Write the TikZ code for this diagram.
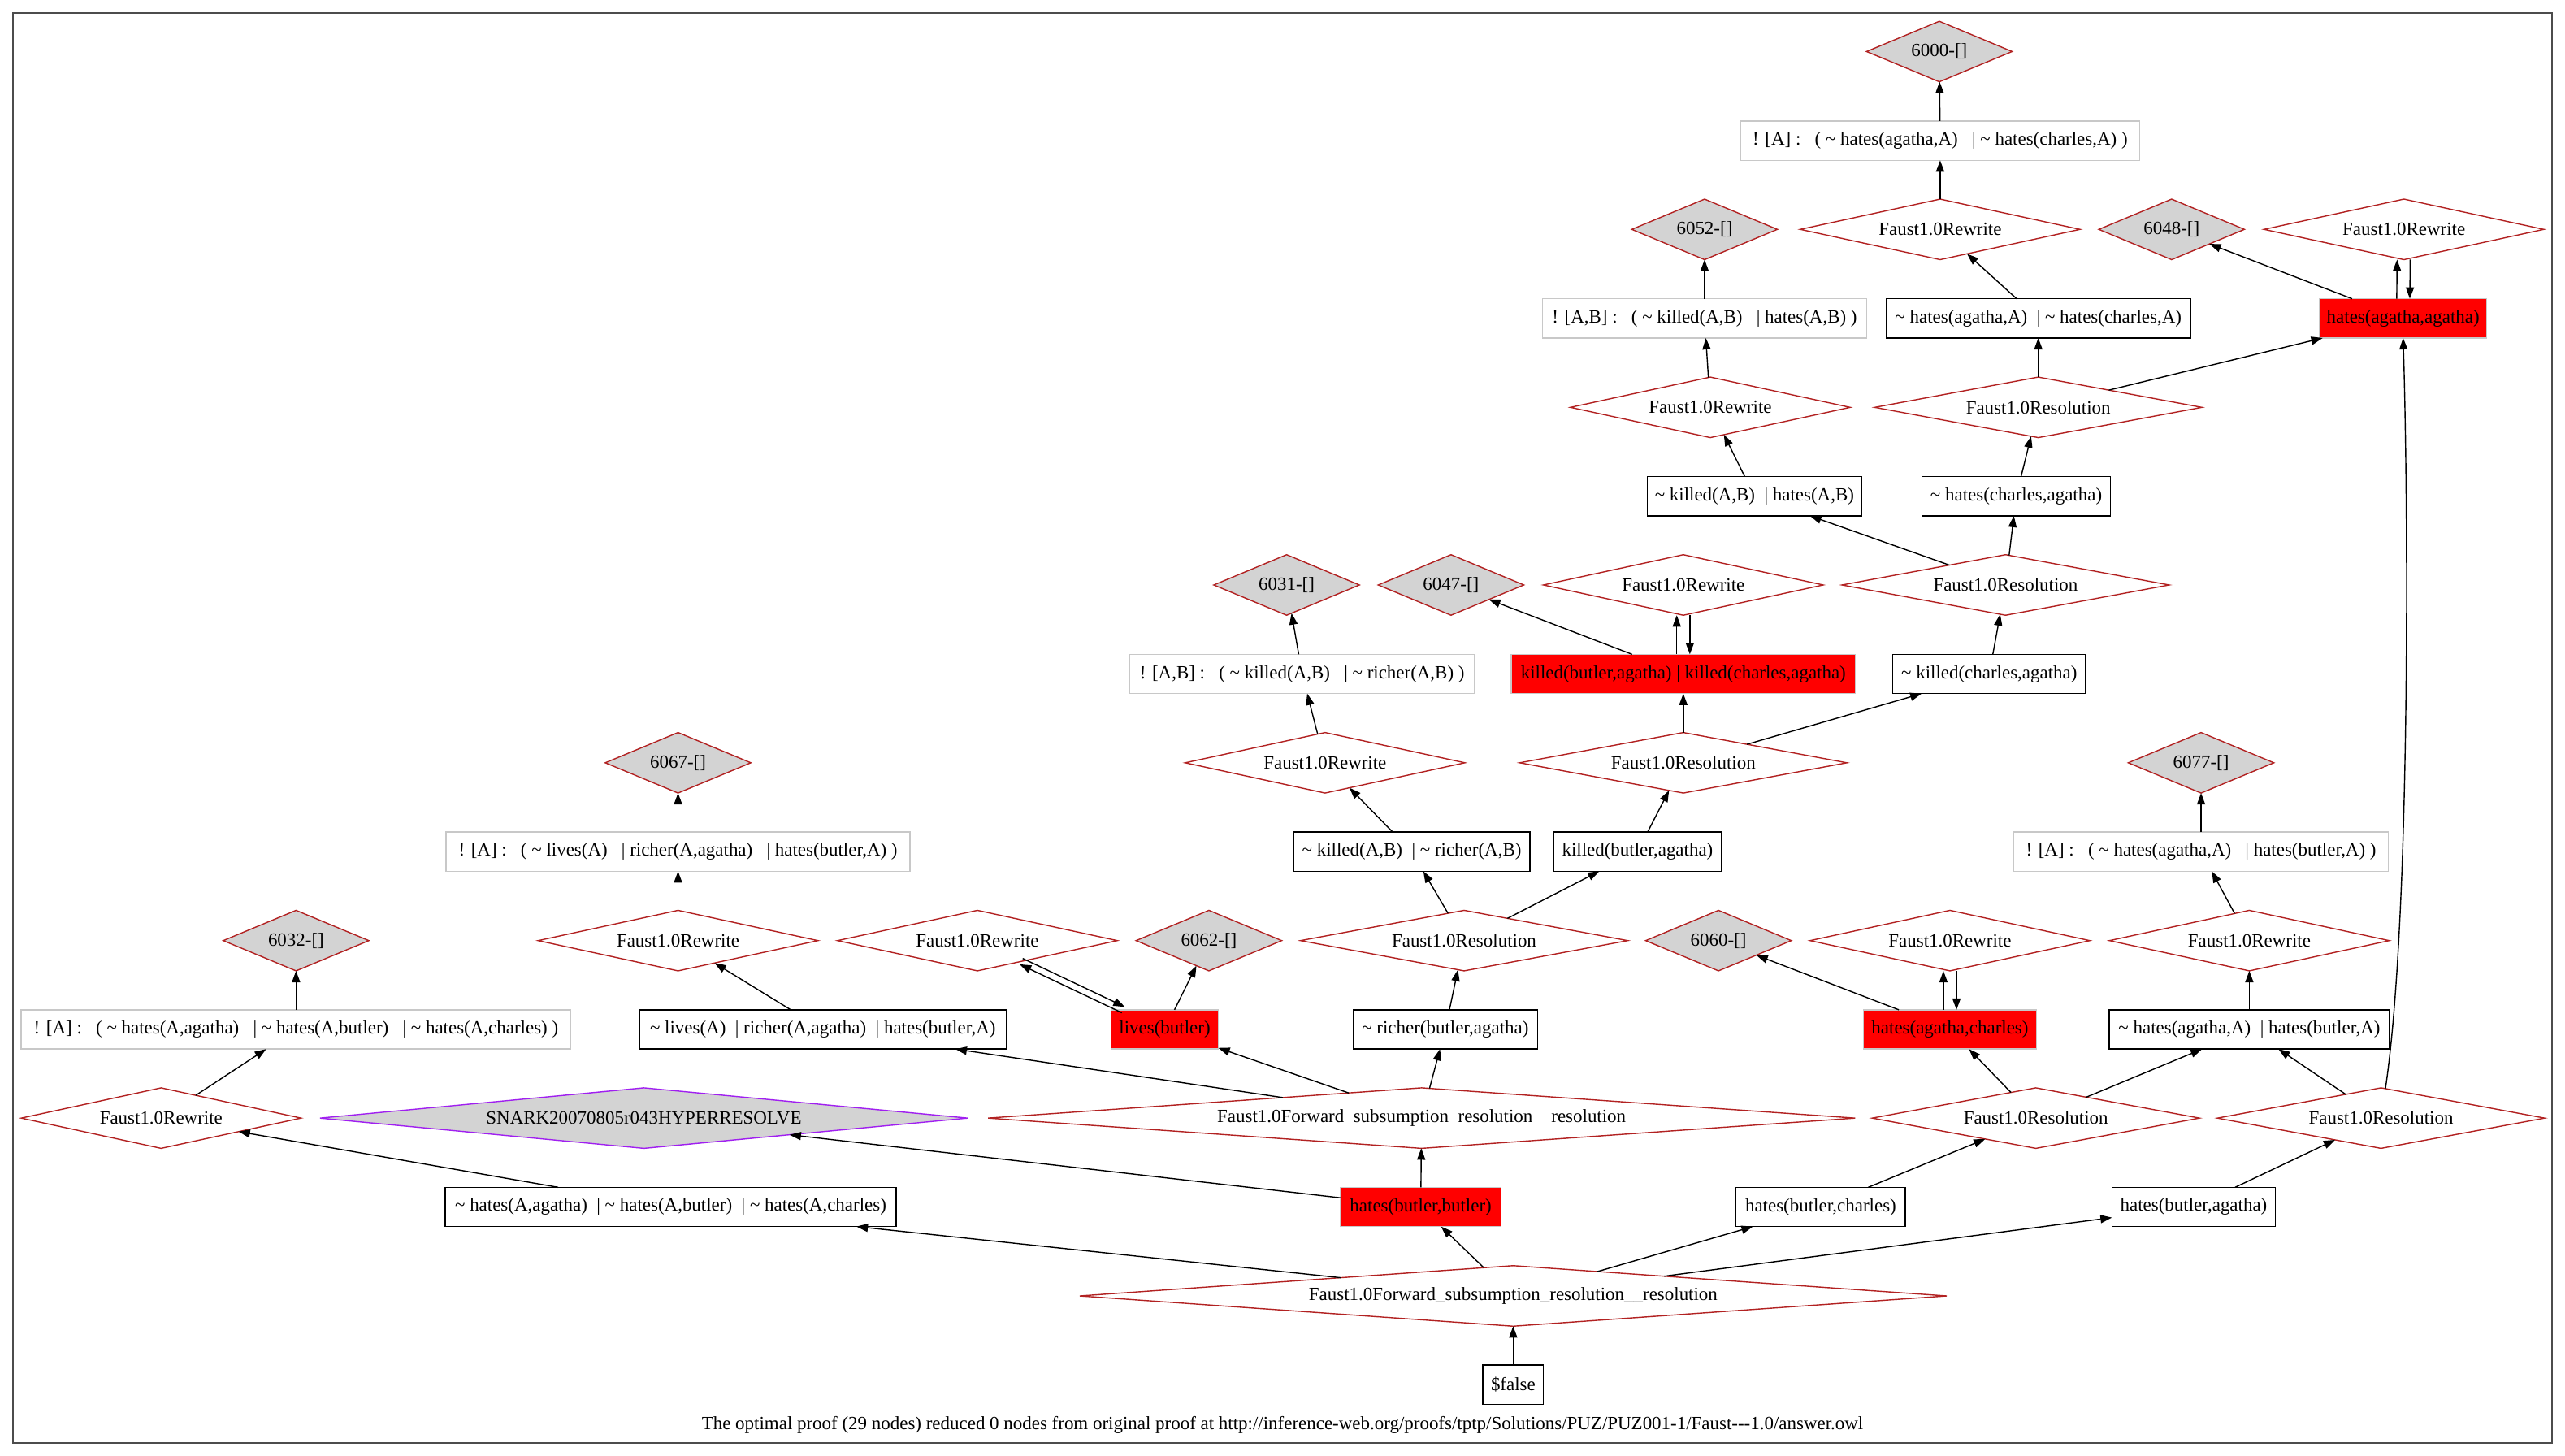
\documentclass[tikz,border=0pt]{standalone}
\usepackage{fontspec}
\setmainfont{Liberation Serif}
\usetikzlibrary{shapes.geometric,arrows.meta,calc}
\definecolor{dcol}{RGB}{178,34,34}
\definecolor{lgray}{RGB}{211,211,211}
\definecolor{lborder}{RGB}{200,200,200}
\definecolor{snarkc}{RGB}{160,32,240}
\newcommand{\Tl}{\textasciitilde\ }
\begin{document}
\begin{tikzpicture}[x=1pt,y=-1pt,
  every node/.style={font=\fontsize{11.4}{13}\selectfont, inner sep=0pt, outer sep=0pt},
  dia/.style n args={3}{diamond, draw=dcol, line width=0.7pt, minimum width=#1, minimum height=#2, shape aspect=#3},
  rw/.style={dia={171}{37}{4.6}},
  rs/.style={dia={200}{37}{5.4}},
  gd/.style={dia={89}{37}{2.4}, fill=lgray},
  fw/.style={dia={530}{37}{14.3}},
  bx/.style={rectangle, draw=black, line width=0.7pt, minimum height=24},
  gbx/.style={rectangle, draw=lborder, line width=0.7pt, minimum height=24},
  rbx/.style={rectangle, draw=lborder, fill=red, line width=0.7pt, minimum height=24},
  arr/.style={draw=black, line width=0.7pt, -{Triangle[length=7pt,width=5pt]}}
]
\useasboundingbox (0,0) rectangle (1568,890);
\draw[black!70, line width=1pt] (8,8) rectangle (1560,882);

% level 0-1
\node[gd] (d6000) at (1185.5,31.5) {6000-[]};
\node[gbx, minimum width=244] (bA1) at (1186,86) {! [A] :\ \ \ ( \Tl hates(agatha,A)\ \ \ | \Tl hates(charles,A) )};
% level 2
\node[gd] (d6052) at (1042,140.2) {6052-[]};
\node[rw] (r1) at (1186,140.2) {Faust1.0Rewrite};
\node[gd] (d6048) at (1327.5,140.2) {6048-[]};
\node[rw] (r2) at (1469.5,140.2) {Faust1.0Rewrite};
% level 3
\node[gbx, minimum width=198] (b1) at (1042,194.6) {! [A,B] :\ \ \ ( \Tl killed(A,B)\ \ \ | hates(A,B) )};
\node[bx, minimum width=186] (b2) at (1246,194.6) {\Tl hates(agatha,A)\ \ | \Tl hates(charles,A)};
\node[rbx, minimum width=102] (red1) at (1469,194.6) {hates(agatha,agatha)};
% level 4
\node[rw] (r3) at (1045.5,249) {Faust1.0Rewrite};
\node[rs] (res1) at (1246,249) {Faust1.0Resolution};
% level 5
\node[bx, minimum width=131] (b3) at (1072.5,303.3) {\Tl killed(A,B)\ \ | hates(A,B)};
\node[bx, minimum width=115] (b4) at (1232.5,303.3) {\Tl hates(charles,agatha)};
% level 6
\node[gd] (d6031) at (786.5,357.6) {6031-[]};
\node[gd] (d6047) at (887,357.6) {6047-[]};
\node[rw] (r4) at (1029,357.6) {Faust1.0Rewrite};
\node[rs] (res2) at (1226,357.6) {Faust1.0Resolution};
% level 7
\node[gbx, minimum width=211] (b5) at (796,412) {! [A,B] :\ \ \ ( \Tl killed(A,B)\ \ \ | \Tl richer(A,B) )};
\node[rbx, minimum width=210.5] (red2) at (1029,412) {killed(butler,agatha) | killed(charles,agatha)};
\node[bx, minimum width=118] (b6) at (1216,412) {\Tl killed(charles,agatha)};
% level 8
\node[gd] (d6067) at (414.5,466.3) {6067-[]};
\node[rw] (r5) at (810,466.3) {Faust1.0Rewrite};
\node[rs] (res3) at (1029,466.3) {Faust1.0Resolution};
\node[gd] (d6077) at (1345.5,466.3) {6077-[]};
% level 9
\node[gbx, minimum width=283.6] (b10) at (414.5,520.6) {! [A] :\ \ \ ( \Tl lives(A)\ \ \ | richer(A,agatha)\ \ \ | hates(butler,A) )};
\node[bx, minimum width=144.5] (b7) at (863,520.6) {\Tl killed(A,B)\ \ | \Tl richer(A,B)};
\node[bx, minimum width=102.7] (b8) at (1001,520.6) {killed(butler,agatha)};
\node[gbx, minimum width=229] (b9) at (1345.5,520.6) {! [A] :\ \ \ ( \Tl hates(agatha,A)\ \ \ | hates(butler,A) )};
% level 10
\node[gd] (d6032) at (181,575) {6032-[]};
\node[rw] (r6) at (414.5,575) {Faust1.0Rewrite};
\node[rw] (r8) at (597.5,575) {Faust1.0Rewrite};
\node[gd] (d6062) at (739,575) {6062-[]};
\node[rs] (res4) at (895,575) {Faust1.0Resolution};
\node[gd] (d6060) at (1050.5,575) {6060-[]};
\node[rw] (r9) at (1192,575) {Faust1.0Rewrite};
\node[rw] (r10) at (1375,575) {Faust1.0Rewrite};
% level 11
\node[gbx, minimum width=336] (b11) at (181,629.3) {! [A] :\ \ \ ( \Tl hates(A,agatha)\ \ \ | \Tl hates(A,butler)\ \ \ | \Tl hates(A,charles) )};
\node[bx, minimum width=224.4] (b12) at (503,629.3) {\Tl lives(A)\ \ | richer(A,agatha)\ \ | hates(butler,A)};
\node[rbx, minimum width=65.5] (red3) at (712,629.3) {lives(butler)};
\node[bx, minimum width=112.6] (b14) at (883.5,629.3) {\Tl richer(butler,agatha)};
\node[rbx, minimum width=106] (red5) at (1192,629.3) {hates(agatha,charles)};
\node[bx, minimum width=171.5] (b15) at (1375,629.3) {\Tl hates(agatha,A)\ \ | hates(butler,A)};
% level 12
\node[rw] (r7) at (98.5,683.5) {Faust1.0Rewrite};
\node[dia={396}{37}{10.7}, draw=snarkc, fill=lgray] (snark) at (393.6,683.5) {SNARK20070805r043HYPERRESOLVE};
\node[fw] (fwd1) at (869,683.5) {Faust1.0Forward\ \ subsumption\ \ resolution\ \ \ \ resolution};
\node[rs] (res5) at (1244.5,683.5) {Faust1.0Resolution};
\node[rs] (res6) at (1455.5,683.5) {Faust1.0Resolution};
% level 13
\node[bx, minimum width=275.5] (b13) at (410,737.8) {\Tl hates(A,agatha)\ \ | \Tl hates(A,butler)\ \ | \Tl hates(A,charles)};
\node[rbx, minimum width=98] (red4) at (868.5,737.8) {hates(butler,butler)};
\node[bx, minimum width=103.5] (b16) at (1113,737.8) {hates(butler,charles)};
\node[bx, minimum width=100] (b17) at (1341,737.8) {hates(butler,agatha)};
% level 14-15
\node[fw] (fwd2) at (925,792.2) {Faust1.0Forward\_subsumption\_resolution\_\_resolution};
\node[bx, minimum width=37] (false) at (925,846.4) {\$false};
\node (cap) at (784,871) {The optimal proof (29 nodes) reduced 0 nodes from original proof at http://inference-web.org/proofs/tptp/Solutions/PUZ/PUZ001-1/Faust-{}-{}-1.0/answer.owl};

% edges
\draw[arr] (bA1) -- (d6000);
\draw[arr] (r1) -- (bA1);
\draw[arr] (b2) -- (r1);
\draw[arr] (b1) -- (d6052);
\draw[arr] (r3) -- (b1);
\draw[arr] (b3) -- (r3);
\draw[arr] (res1) -- (b2);
\draw[arr] (res1) -- (red1);
\draw[arr] (red1) -- (d6048);
\draw[arr, transform canvas={xshift=-4pt}] (red1) -- (r2);
\draw[arr, transform canvas={xshift=4pt}] (r2) -- (red1);
\draw[arr] (res6) .. controls (1474,560) and (1472,300) .. (red1.south);
\draw[arr] (b4) -- (res1);
\draw[arr] (res2) -- (b3);
\draw[arr] (res2) -- (b4);
\draw[arr] (b6) -- (res2);
\draw[arr] (red2) -- (d6047);
\draw[arr, transform canvas={xshift=-4pt}] (red2) -- (r4);
\draw[arr, transform canvas={xshift=4pt}] (r4) -- (red2);
\draw[arr] (res3) -- (red2);
\draw[arr] (res3) -- (b6);
\draw[arr] (b5) -- (d6031);
\draw[arr] (r5) -- (b5);
\draw[arr] (b7) -- (r5);
\draw[arr] (b8) -- (res3);
\draw[arr] (b9) -- (d6077);
\draw[arr] (r10) -- (b9);
\draw[arr] (b15) -- (r10);
\draw[arr] (res4) -- (b7);
\draw[arr] (res4) -- (b8);
\draw[arr] (b14) -- (res4);
\draw[arr] (b10) -- (d6067);
\draw[arr] (r6) -- (b10);
\draw[arr] (b12) -- (r6);
\draw[arr] (b11) -- (d6032);
\draw[arr] (r7) -- (b11);
\draw[arr] (b13) -- (r7);
\draw[arr, transform canvas={xshift=-0.9pt, yshift=-1.8pt}] (red3) -- (r8);
\draw[arr, transform canvas={xshift=0.9pt, yshift=1.8pt}] (r8) -- (red3);
\draw[arr] (red3) -- (d6062);
\draw[arr] (fwd1) -- (red3);
\draw[arr] (fwd1) -- (b12);
\draw[arr] (fwd1) -- (b14);
\draw[arr] (red4) -- (fwd1);
\draw[arr] (red4) -- (snark);
\draw[arr] (red5) -- (d6060);
\draw[arr, transform canvas={xshift=-4pt}] (red5) -- (r9);
\draw[arr, transform canvas={xshift=4pt}] (r9) -- (red5);
\draw[arr] (res5) -- (red5);
\draw[arr] (res5) -- (b15);
\draw[arr] (res6) -- (b15);
\draw[arr] (b16) -- (res5);
\draw[arr] (b17) -- (res6);
\draw[arr] (fwd2) -- (b13);
\draw[arr] (fwd2) -- (red4);
\draw[arr] (fwd2) -- (b16);
\draw[arr] (fwd2) -- (b17);
\draw[arr] (false) -- (fwd2);
\end{tikzpicture}
\end{document}
